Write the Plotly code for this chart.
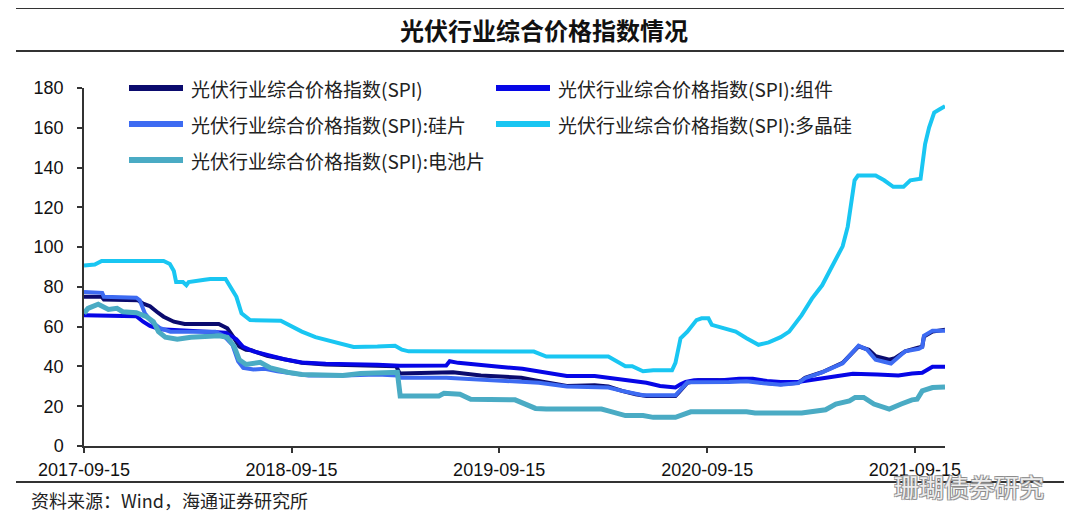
import plotly.graph_objects as go

# ---------------- data ----------------
tick_dates = ["2017-09-15", "2018-09-15", "2019-09-15", "2020-09-15", "2021-09-15"]
tick_labels = ["2017-09-15", "2018-09-15", "2019-09-15", "2020-09-15", "2021-09-15"]
y_ticks = [0, 20, 40, 60, 80, 100, 120, 140, 160, 180]

spi_dates = ["2017-09-15", "2017-10-16", "2017-10-20", "2017-12-19", "2017-12-28", "2018-01-09", "2018-01-21",
             "2018-02-02", "2018-02-20", "2018-03-11", "2018-05-10", "2018-05-25", "2018-06-06", "2018-06-15",
             "2018-06-27", "2018-07-06", "2018-08-03", "2018-09-02", "2018-10-03", "2018-11-14", "2019-02-13",
             "2019-03-18", "2019-03-24", "2019-06-14", "2019-06-26", "2019-08-14", "2019-09-30", "2019-10-24",
             "2019-11-18", "2019-11-24", "2019-12-19", "2020-01-12", "2020-03-01", "2020-03-25", "2020-04-18",
             "2020-05-12", "2020-05-31", "2020-07-21", "2020-07-27", "2020-08-11", "2020-08-30", "2020-10-23",
             "2020-11-23", "2020-12-23", "2021-01-22", "2021-02-22", "2021-03-06", "2021-04-05", "2021-04-29",
             "2021-05-11", "2021-06-08", "2021-06-26", "2021-07-08", "2021-08-01", "2021-08-11", "2021-08-29",
             "2021-09-19", "2021-09-28", "2021-10-01", "2021-10-16", "2021-11-07"]
spi_vals = [75, 75, 73.6, 73.3, 71.6, 70.3, 67.5,
            65, 62.5, 61.4, 61.4, 59.2, 54.2, 50.1,
            48.4, 48.1, 45.4, 43.4, 41.8, 41, 40.5,
            40.1, 36.5, 36.8, 37.1, 35.5, 34.8, 34.3,
            33, 32.7, 31.8, 30.2, 30.5, 29.9, 27.7,
            26, 25.2, 25.2, 26.9, 31.8, 33, 32.7,
            33, 31.8, 31, 31.8, 34.3, 37.1, 40.1,
            41.8, 50.1, 48.4, 45.1, 43.4, 44.2, 47.6,
            49.3, 50, 55, 57.5, 58.4]

module_dates = ["2017-09-15", "2017-12-16", "2017-12-28", "2018-01-09", "2018-01-27", "2018-02-14", "2018-05-22",
                "2018-06-10", "2018-06-22", "2018-07-10", "2018-08-03", "2018-09-02", "2018-10-03", "2018-11-14",
                "2019-02-13", "2019-03-24", "2019-06-14", "2019-06-20", "2019-07-05", "2019-08-14", "2019-09-15",
                "2019-10-26", "2019-11-19", "2019-12-19", "2020-01-12", "2020-03-01", "2020-03-25", "2020-04-30",
                "2020-05-31", "2020-06-24", "2020-07-21", "2020-07-30", "2020-08-08", "2020-08-23", "2020-10-05",
                "2020-11-10", "2020-12-04", "2020-12-29", "2021-01-22", "2021-02-21", "2021-03-24", "2021-04-23",
                "2021-05-29", "2021-07-11", "2021-08-17", "2021-09-10", "2021-09-28", "2021-10-16", "2021-11-07"]
module_vals = [65.8, 65.3, 62.5, 60.4, 58.7, 58.4, 57,
               53.7, 49.8, 47.6, 45.6, 43.6, 42, 41.3,
               40.8, 40.3, 40.5, 42.6, 41.8, 40.5, 39.8,
               38.8, 37.6, 36.5, 35.2, 35.2, 34.3, 33.2,
               31.8, 30.2, 29.4, 31, 32.2, 33, 33,
               33.8, 33.8, 32.7, 32.2, 32.2, 33.5, 34.3,
               36.3, 36, 35.5, 36.5, 36.8, 39.8, 39.8]

wafer_dates = ["2017-09-15", "2017-10-17", "2017-10-20", "2017-12-16", "2017-12-22", "2017-12-31", "2018-01-12",
               "2018-01-27", "2018-02-14", "2018-05-04", "2018-05-19", "2018-06-03", "2018-06-13", "2018-06-22",
               "2018-07-10", "2018-07-30", "2018-08-21", "2018-09-15", "2018-10-15", "2018-12-14", "2019-02-13",
               "2019-03-20", "2019-03-27", "2019-06-14", "2019-08-14", "2019-10-13", "2019-11-18", "2019-11-24",
               "2020-01-12", "2020-03-25", "2020-04-18", "2020-05-25", "2020-07-21", "2020-08-11", "2020-10-23",
               "2020-11-23", "2020-12-23", "2021-01-22", "2021-02-22", "2021-03-06", "2021-04-05", "2021-04-29",
               "2021-05-11", "2021-06-08", "2021-06-23", "2021-07-08", "2021-08-04", "2021-08-29", "2021-09-22",
               "2021-09-28", "2021-10-01", "2021-10-16", "2021-11-07"]
wafer_vals = [77.4, 77, 75, 74.6, 73.3, 66.7, 62.5,
              59.2, 57.5, 57.5, 55.4, 50.9, 42.6, 39.3,
              38.5, 38.8, 37.6, 36.8, 35.5, 35.5, 36,
              35.5, 34.3, 34.3, 33.2, 32.2, 31.8, 31.8,
              29.9, 29.4, 27.7, 25.5, 25.5, 32, 32.2,
              32.5, 31.5, 30.8, 31.6, 34.1, 37, 40,
              41.6, 50.4, 48.4, 43.4, 41.5, 47.6, 48.9,
              49.8, 55.4, 58, 58]

poly_dates = ["2017-09-15", "2017-10-04", "2017-10-16", "2018-02-02", "2018-02-13", "2018-02-20", "2018-02-24",
              "2018-03-08", "2018-03-14", "2018-03-18", "2018-04-15", "2018-04-25", "2018-05-22", "2018-06-10",
              "2018-06-19", "2018-07-04", "2018-08-27", "2018-09-15", "2018-10-03", "2018-10-27", "2018-11-20",
              "2018-12-15", "2019-01-02", "2019-02-13", "2019-03-16", "2019-03-28", "2019-04-09", "2019-11-15",
              "2019-12-07", "2020-03-25", "2020-04-12", "2020-04-24", "2020-05-06", "2020-05-25", "2020-06-12",
              "2020-07-15", "2020-07-21", "2020-07-30", "2020-08-11", "2020-08-27", "2020-09-05", "2020-09-17",
              "2020-09-23", "2020-10-17", "2020-11-04", "2020-11-23", "2020-12-14", "2021-01-01", "2021-01-22",
              "2021-02-06", "2021-02-28", "2021-03-18", "2021-04-05", "2021-04-20", "2021-05-05", "2021-05-11",
              "2021-05-20", "2021-05-26", "2021-06-01", "2021-06-07", "2021-07-08", "2021-07-23", "2021-08-08",
              "2021-08-26", "2021-09-07", "2021-09-25", "2021-09-29", "2021-10-03", "2021-10-10", "2021-10-19",
              "2021-10-28", "2021-11-07"]
poly_vals = [90.7, 91.2, 93, 93, 91.5, 88, 82.4,
             82.4, 80.8, 82.4, 83.6, 84, 84, 75,
             66.7, 63.3, 63, 60, 57.5, 54.7, 53,
             51.4, 49.8, 50, 50.4, 48.4, 47.6, 47.5,
             45, 45, 41.8, 40.1, 40.1, 37.6, 38.1,
             38.1, 41.8, 54.2, 57.5, 63.3, 64.2, 64.2,
             60.9, 59.2, 57.5, 54.2, 50.9, 52.1, 54.7,
             57.5, 65.8, 74.1, 80.8, 89, 96.5, 100.4,
             110.3, 123.6, 133.6, 136, 136, 133.6, 130.3,
             130.3, 133.6, 134.4, 143.5, 151.8, 160.1, 167.6,
             169.2, 170.9]

cell_dates = ["2017-09-15", "2017-09-22", "2017-10-10", "2017-10-28", "2017-11-12", "2017-11-22", "2017-12-16",
              "2018-01-03", "2018-01-15", "2018-01-24", "2018-02-05", "2018-02-26", "2018-03-22", "2018-05-10",
              "2018-05-25", "2018-06-06", "2018-06-15", "2018-06-27", "2018-07-22", "2018-08-09", "2018-09-08",
              "2018-10-03", "2018-12-14", "2019-01-14", "2019-03-20", "2019-03-25", "2019-06-01", "2019-06-10",
              "2019-07-08", "2019-07-27", "2019-10-13", "2019-11-06", "2019-11-18", "2019-12-07", "2020-03-13",
              "2020-03-25", "2020-04-24", "2020-05-25", "2020-06-12", "2020-07-21", "2020-08-05", "2020-08-17",
              "2020-11-23", "2020-12-08", "2021-02-28", "2021-03-24", "2021-04-11", "2021-04-29", "2021-05-23",
              "2021-06-02", "2021-06-17", "2021-07-05", "2021-08-01", "2021-08-22", "2021-09-10", "2021-09-19",
              "2021-09-28", "2021-10-16", "2021-11-07"]
cell_vals = [66.7, 69.2, 71.3, 68.7, 69.2, 67.5, 67,
             65, 62.5, 57.5, 54.7, 53.7, 54.7, 55.4,
             54.7, 50.1, 43.4, 41, 42.1, 39.3, 37.1,
             36, 35.5, 36.5, 37.1, 25.2, 25.2, 26.5,
             26, 23.5, 23.2, 20.2, 18.9, 18.6, 18.6,
             17.7, 15.3, 15.3, 14.4, 14.4, 16.1, 17.2,
             17.2, 16.6, 16.6, 17.2, 18.2, 21.1, 22.7,
             24.4, 24.4, 21.1, 18.6, 21.1, 23.2, 23.5,
             27.7, 29.4, 29.7]

series_names = ["光伏行业综合价格指数(SPI)", "光伏行业综合价格指数(SPI):组件", "光伏行业综合价格指数(SPI):硅片",
                "光伏行业综合价格指数(SPI):多晶硅", "光伏行业综合价格指数(SPI):电池片"]

# ---------------- layout helpers ----------------
# the page body has an 8px margin, so target screen pixels are offset by OFF
W, H = 1080, 530
OFF = 8
PLOT_X0, PLOT_X1, PLOT_Y0, PLOT_Y1 = 84, 945, 88, 446   # target screen pixels
L = PLOT_X0 - OFF
R = W - (PLOT_X1 - OFF)
T = PLOT_Y0 - OFF
B = H - (PLOT_Y1 - OFF)


def px_x(px):
    return (px - PLOT_X0) / (PLOT_X1 - PLOT_X0)


def px_y(py):
    return (PLOT_Y1 - py) / (PLOT_Y1 - PLOT_Y0)


colors = ["#0B0B6E", "#0606E6", "#3D6BF2", "#19C6F2", "#4AABC4"]
widths = [4, 4, 4, 4, 5]
series = [(spi_dates, spi_vals), (module_dates, module_vals), (wafer_dates, wafer_vals),
          (poly_dates, poly_vals), (cell_dates, cell_vals)]

fig = go.Figure()
for (d, v), name, c, w in zip(series, series_names, colors, widths):
    fig.add_trace(go.Scatter(x=d, y=v, mode="lines", name=name,
                             line=dict(color=c, width=w), showlegend=False))

shapes = []
annotations = []

# manual legend (two columns)
legend_pos = [(129, 183, 189, 88), (496, 550, 556, 88), (129, 183, 189, 124),
              (496, 550, 556, 124), (129, 183, 189, 160)]
for (x0, x1, xt, yy), name, c in zip(legend_pos, series_names, colors):
    shapes.append(dict(type="line", xref="paper", yref="paper",
                       x0=px_x(x0), x1=px_x(x1), y0=px_y(yy), y1=px_y(yy),
                       line=dict(color=c, width=6)))
    annotations.append(dict(xref="paper", yref="paper", x=px_x(xt), y=px_y(yy),
                            text=name, showarrow=False, xanchor="left", yanchor="middle",
                            font=dict(family="Noto Sans CJK SC", size=19, color="#222222")))

# frame lines
for yy in (8, 51, 482):
    shapes.append(dict(type="line", xref="paper", yref="paper",
                       x0=px_x(16), x1=px_x(1064), y0=px_y(yy), y1=px_y(yy),
                       line=dict(color="#333333", width=2)))

annotations.append(dict(xref="paper", yref="paper", x=px_x(544), y=px_y(30),
                        text="<b>光伏行业综合价格指数情况</b>", showarrow=False,
                        xanchor="center", yanchor="middle",
                        font=dict(family="Noto Sans CJK SC", size=24, color="#111111")))
annotations.append(dict(xref="paper", yref="paper", x=px_x(29), y=px_y(500),
                        text="资料来源：Wind，海通证券研究所", showarrow=False,
                        xanchor="left", yanchor="middle",
                        font=dict(family="Noto Sans CJK SC", size=18, color="#222222")))
annotations.append(dict(xref="paper", yref="paper", x=px_x(1046), y=px_y(486),
                        text="珊瑚债券研究", showarrow=False,
                        xanchor="right", yanchor="middle",
                        font=dict(family="Noto Sans CJK SC", size=25, color="rgba(255,255,255,0.85)",
                                  shadow="1px 1px 0 #8a8a8a, -1px -1px 0 #8a8a8a, 1px -1px 0 #8a8a8a, -1px 1px 0 #8a8a8a")))

fig.update_layout(
    width=W, height=H,
    margin=dict(l=L, r=R, t=T, b=B),
    paper_bgcolor="white", plot_bgcolor="white",
    shapes=shapes, annotations=annotations,
    xaxis=dict(type="date", range=["2017-09-15", "2021-11-07"],
               tickvals=tick_dates, ticktext=tick_labels,
               ticks="outside", ticklen=5, tickwidth=1.5, tickcolor="#333333",
               showline=True, linecolor="#333333", linewidth=1.5,
               showgrid=False, zeroline=False, ticklabelstandoff=2,
               tickfont=dict(family="Arial", size=18, color="#111111")),
    yaxis=dict(range=[0, 180], tickvals=y_ticks,
               ticks="outside", ticklen=5, tickwidth=1.5, tickcolor="#333333",
               showline=True, linecolor="#333333", linewidth=1.5,
               showgrid=False, zeroline=False, ticklabelstandoff=10,
               tickfont=dict(family="Arial", size=18, color="#111111")),
)

fig.write_html("out.html")
